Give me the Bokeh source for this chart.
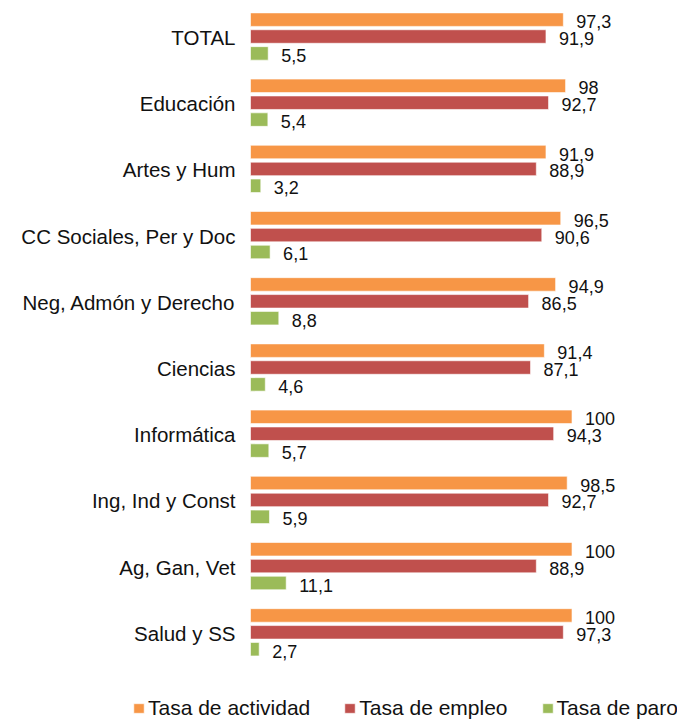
from bokeh.plotting import figure
from bokeh.models import ColumnDataSource, Range1d, Legend, LegendItem
from bokeh.core.properties import value
from bokeh.embed import file_html
from bokeh.resources import INLINE

categories = ["TOTAL", "Educación", "Artes y Hum", "CC Sociales, Per y Doc",
              "Neg, Admón y Derecho", "Ciencias", "Informática",
              "Ing, Ind y Const", "Ag, Gan, Vet", "Salud y SS"]
actividad = [97.3, 98, 91.9, 96.5, 94.9, 91.4, 100, 98.5, 100, 100]
empleo = [91.9, 92.7, 88.9, 90.6, 86.5, 87.1, 94.3, 92.7, 88.9, 97.3]
paro = [5.5, 5.4, 3.2, 6.1, 8.8, 4.6, 5.7, 5.9, 11.1, 2.7]
series_names = ["Tasa de actividad", "Tasa de empleo", "Tasa de paro"]
colors = ["#F79646", "#C0504D", "#9BBB59"]


def fmt(v):
    return f"{v:g}".replace(".", ",")


n = len(categories)
offsets = [0.255, 0.0, -0.255]
cols = ["act", "emp", "par"]
data = {"cat": categories, "pos": [n - 1 - i for i in range(n)], "zero": [0] * n}
for c, off, vals in zip(cols, offsets, [actividad, empleo, paro]):
    data[c] = vals
    data[c + "_lbl"] = [fmt(v) for v in vals]
    data[c + "_y"] = [pp + off for pp in data["pos"]]
src = ColumnDataSource(data)

FONT = "Liberation Sans"

p = figure(width=677, height=720,
           x_range=Range1d(-77.76, 132.81), y_range=Range1d(-1.332, 9.544),
           output_backend="svg", toolbar_location=None,
           min_border_left=0, min_border_right=0, min_border_top=0,
           min_border_bottom=0)
p.outline_line_color = None
p.grid.visible = False
p.axis.visible = False

# category labels
p.text(x="zero", y="pos", text="cat", source=src, x_offset=-15, y_offset=1,
       text_align="right", text_baseline="middle", text_font=value(FONT),
       text_font_size="20.5px", text_color="#111111")

renderers = []
for c, color in zip(cols, colors):
    r = p.hbar(y=c + "_y", left=0, right=c, height=0.204, source=src,
               fill_color=color, line_color="white", line_alpha=0.6, line_width=1)
    renderers.append(r)
    p.text(x=c, y=c + "_y", text=c + "_lbl", source=src,
           x_offset=13, y_offset=2, text_align="left", text_baseline="middle",
           text_font=value(FONT), text_font_size="18px", text_color="#111111")

legend = Legend(items=[LegendItem(label=nm, renderers=[r]) for nm, r in zip(series_names, renderers)],
                orientation="horizontal", location=(132, 0), padding=0, margin=0,
                spacing=33, label_standoff=3, glyph_width=13, glyph_height=12,
                border_line_color=None, background_fill_alpha=0,
                label_text_font=FONT, label_text_font_size="21px",
                label_text_color="#111111")
p.add_layout(legend, "center")

open("out.html", "w").write(file_html(p, INLINE))
